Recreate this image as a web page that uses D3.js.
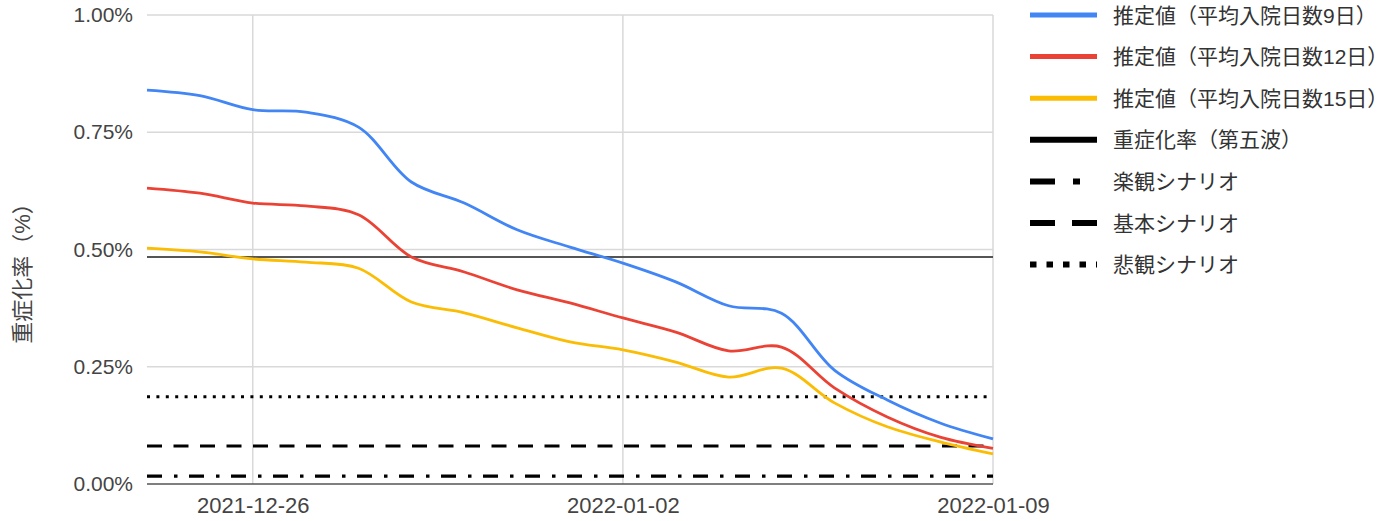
<!DOCTYPE html>
<html>
<head>
<meta charset="utf-8">
<script src="https://cdn.jsdelivr.net/npm/d3@7"></script>
<style>
  html, body { margin: 0; padding: 0; background: #fff; }
  svg { display: block; }
  text { font-family: "Liberation Sans", Arial, "Noto Sans CJK JP", sans-serif; }
</style>
</head>
<body>
<svg id="chart" width="1397" height="521"></svg>
<script>
// Daily estimates of the severe-case rate (%), 2021-12-24 .. 2022-01-09
const dates = ["2021-12-24","2021-12-25","2021-12-26","2021-12-27","2021-12-28","2021-12-29",
  "2021-12-30","2021-12-31","2022-01-01","2022-01-02","2022-01-03","2022-01-04","2022-01-05",
  "2022-01-06","2022-01-07","2022-01-08","2022-01-09"];
const stay9  = [0.840,0.828,0.798,0.793,0.761,0.644,0.599,0.542,0.505,0.471,0.431,0.380,0.364,0.243,0.179,0.130,0.096];
const stay12 = [0.631,0.620,0.599,0.593,0.574,0.484,0.452,0.414,0.386,0.354,0.324,0.284,0.292,0.205,0.143,0.100,0.076];
const stay15 = [0.503,0.495,0.480,0.473,0.460,0.388,0.365,0.333,0.303,0.286,0.260,0.228,0.247,0.173,0.122,0.090,0.064];

// Reference levels (%)
const wave5Rate = 0.484;
const optimistic = 0.017;
const baseline = 0.081;
const pessimistic = 0.186;

const yTicks = [0, 0.25, 0.5, 0.75, 1.0];
const xTickLabels = ["2021-12-26", "2022-01-02", "2022-01-09"];

const seriesNames = ["推定値（平均入院日数9日）", "推定値（平均入院日数12日）", "推定値（平均入院日数15日）"];
const refNames = ["重症化率（第五波）", "楽観シナリオ", "基本シナリオ", "悲観シナリオ"];
const seriesColors = ["#4285f4", "#ea4335", "#fbbc04"];

const parse = d3.utcParse("%Y-%m-%d");
const svg = d3.select("#chart");
const m = { left: 147, right: 993, top: 15, bottom: 484 };

const x = d3.scaleUtc()
  .domain([parse(dates[0]), parse(dates[dates.length - 1])])
  .range([m.left, m.right]);
const y = d3.scaleLinear().domain([0, 1]).range([m.bottom, m.top]);

// horizontal gridlines
svg.append("g").selectAll("line").data(yTicks.filter(d => d > 0)).join("line")
  .attr("x1", m.left).attr("x2", m.right)
  .attr("y1", d => y(d)).attr("y2", d => y(d))
  .attr("stroke", "#d9d9d9").attr("stroke-width", 1.5);

// vertical gridlines
svg.append("g").selectAll("line").data(xTickLabels).join("line")
  .attr("x1", d => x(parse(d))).attr("x2", d => x(parse(d)))
  .attr("y1", m.top).attr("y2", m.bottom)
  .attr("stroke", "#d9d9d9").attr("stroke-width", 1.5);

// y axis labels
const yAxis = d3.axisLeft(y).tickValues(yTicks).tickSize(0).tickPadding(14)
  .tickFormat(d => d3.format(".2f")(d) + "%");
svg.append("g").attr("transform", `translate(${m.left},0)`).call(yAxis)
  .call(g => g.select(".domain").remove())
  .selectAll("text").attr("font-size", 21).attr("fill", "#444")
  .attr("font-family", "'Liberation Sans', Arial, sans-serif");

// x axis labels
const xAxis = d3.axisBottom(x).tickValues(xTickLabels.map(parse)).tickSize(0).tickPadding(13)
  .tickFormat(d3.utcFormat("%Y-%m-%d"));
svg.append("g").attr("transform", `translate(0,${m.bottom})`).call(xAxis)
  .call(g => g.select(".domain").remove())
  .selectAll("text").attr("font-size", 22).attr("fill", "#444")
  .attr("font-family", "'Liberation Sans', Arial, sans-serif");

// reference lines
const refs = [
  { v: wave5Rate, dash: null, w: 2.2, c: "#555" },
  { v: optimistic, dash: "15,12,3.5,11.5", w: 3.2, c: "#000" },
  { v: baseline, dash: "15,11.5", w: 3.2, c: "#000" },
  { v: pessimistic, dash: "3,6.4", w: 3, c: "#000" }
];
svg.append("g").selectAll("line").data(refs).join("line")
  .attr("x1", m.left).attr("x2", m.right)
  .attr("y1", d => y(d.v)).attr("y2", d => y(d.v))
  .attr("stroke", d => d.c).attr("stroke-width", d => d.w)
  .attr("stroke-dasharray", d => d.dash);

// baseline
svg.append("line").attr("x1", m.left).attr("x2", m.right)
  .attr("y1", y(0)).attr("y2", y(0)).attr("stroke", "#555").attr("stroke-width", 1.6);

// estimate curves
const line = d3.line()
  .x((d, i) => x(parse(dates[i])))
  .y(d => y(d))
  .curve(d3.curveCatmullRom.alpha(0.5));
[stay9, stay12, stay15].forEach((s, i) => {
  svg.append("path").datum(s).attr("d", line)
    .attr("fill", "none").attr("stroke", seriesColors[i]).attr("stroke-width", 2.8);
});

// y axis title
svg.append("text")
  .attr("transform", "translate(22,268) rotate(-90)")
  .attr("text-anchor", "middle").attr("dominant-baseline", "central")
  .attr("font-size", 22).attr("fill", "#444")
  .text("重症化率（%）");

// legend
const legendItems = [
  { name: seriesNames[0], c: seriesColors[0], dash: null, w: 5 },
  { name: seriesNames[1], c: seriesColors[1], dash: null, w: 5 },
  { name: seriesNames[2], c: seriesColors[2], dash: null, w: 5 },
  { name: refNames[0], c: "#000", dash: null, w: 6 },
  { name: refNames[1], c: "#000", dash: "25,18,7,100", w: 6 },
  { name: refNames[2], c: "#000", dash: "25,17", w: 6 },
  { name: refNames[3], c: "#000", dash: "6.5,10", w: 6 }
];
const lg = svg.append("g").selectAll("g").data(legendItems).join("g")
  .attr("transform", (d, i) => `translate(1030,${15 + i * 41.6})`);
lg.append("line").attr("x1", 0).attr("x2", 67).attr("y1", 0).attr("y2", 0)
  .attr("stroke", d => d.c).attr("stroke-width", d => d.w)
  .attr("stroke-dasharray", d => d.dash);
lg.append("text").attr("x", 83).attr("y", 0).attr("dominant-baseline", "central")
  .attr("font-size", 21).attr("fill", "#333")
  .text(d => d.name);
</script>
</body>
</html>
